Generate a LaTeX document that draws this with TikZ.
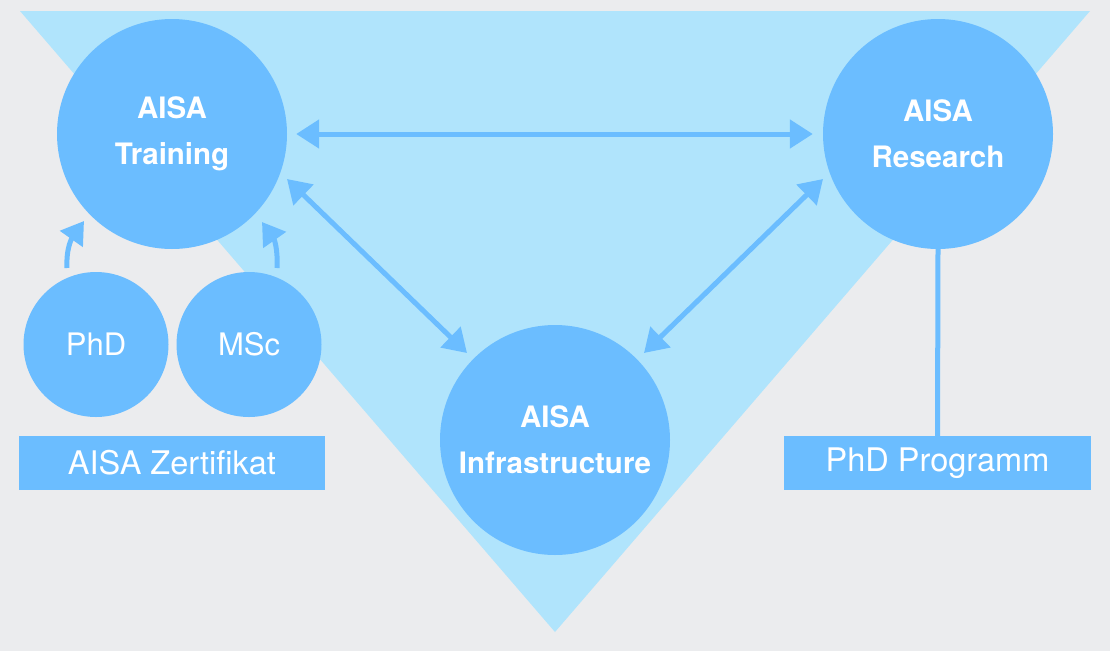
\documentclass[tikz,border=0pt]{standalone}
\usepackage{fontspec}
\setmainfont{TeX Gyre Heros}
\usetikzlibrary{arrows.meta}
\definecolor{cbg}{HTML}{EBECEE}
\definecolor{ctri}{HTML}{B0E4FC}
\definecolor{cblue}{HTML}{6BBDFF}
\begin{document}
\begin{tikzpicture}[x=1pt,y=-1pt,
 bigc/.style={circle,fill=cblue,minimum size=230pt,inner sep=0pt,text=white,font=\fontsize{29.5}{46}\selectfont\bfseries,align=center},
 smallc/.style={circle,fill=cblue,minimum size=145pt,inner sep=0pt,text=white,font=\fontsize{31}{36}\selectfont},
 lab/.style={rectangle,fill=cblue,minimum width=306pt,minimum height=54pt,inner sep=0pt,text=white,font=\fontsize{32.5}{36}\selectfont},
 arr/.style={draw=cblue,line width=5pt,{Triangle[length=23pt,width=28pt]}-{Triangle[length=23pt,width=28pt]}},
 uparr/.style={draw=cblue,line width=5pt,-{Triangle[length=22pt,width=27pt]}}]
\fill[cbg] (0,0) rectangle (1110,651);
\useasboundingbox (0,0) rectangle (1110,651);
\fill[ctri] (20,11) -- (1090,11) -- (555,632) -- cycle;

\node[bigc] (train) at (172,134) {AISA\\Training};
\node[bigc] (research) at (938,134) {AISA\\Research};
\node[bigc] (infra) at (555,440) {AISA\\Infrastructure};
\node[smallc] (phd) at (96,344.5) {PhD};
\node[smallc] (msc) at (249,344.5) {MSc};
\node[lab] (zert) at (172,463) {AISA Zertifikat};
\node[lab,minimum width=307pt] (phdprog) at (937.5,463) {PhD Programm};

\draw[arr] ([xshift=9pt]train.east) -- ([xshift=-10pt]research.west);
\draw[arr] ([shift={(115,45)}]train.center) -- ([shift={(-88,-87)}]infra.center);
\draw[arr] ([shift={(-115,45)}]research.center) -- ([shift={(89,-87)}]infra.center);
\draw[uparr] ([shift={(-29,-76.5)}]phd.center) .. controls +(-1,-20) and +(-12,17) .. ([shift={(-88,87)}]train.center);
\draw[uparr] ([shift={(28,-76.5)}]msc.center) .. controls +(1,-20) and +(12,17) .. ([shift={(90,88)}]train.center);
\draw[draw=cblue,line width=5pt] (research.south) -- (phdprog.north);
\end{tikzpicture}
\end{document}
